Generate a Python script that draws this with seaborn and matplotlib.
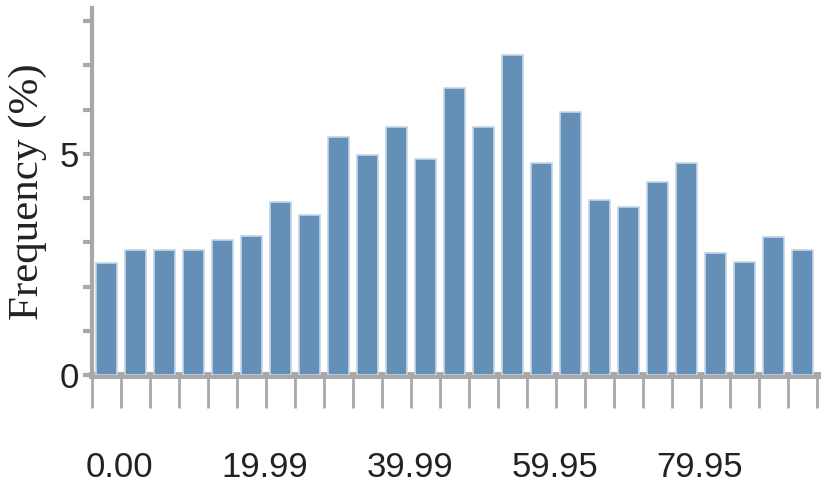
import pandas as pd
import matplotlib
matplotlib.use("Agg")
import matplotlib.pyplot as plt
from matplotlib.ticker import MultipleLocator
import seaborn as sns

# bar heights (% frequency)
BIN_INDEX = list(range(25))
FREQUENCY = [2.53, 2.83, 2.83, 2.83, 3.05, 3.14, 3.91, 3.62, 5.38, 4.98,
             5.61, 4.89, 6.50, 5.61, 7.24, 4.80, 5.95, 3.96, 3.80, 4.37,
             4.80, 2.76, 2.56, 3.12, 2.83]
TICK_BINS = [0, 5, 10, 15, 20]
TICK_LABELS = ["0.00", "19.99", "39.99", "59.95", "79.95"]

BAR_COLOR = "#6490b8"
AXIS_COLOR = "#a8a8a8"

df = pd.DataFrame({"bin": BIN_INDEX, "freq": FREQUENCY})

sns.set_style("white")
fig = plt.figure(figsize=(8.26, 4.92), dpi=100)
ax = fig.add_axes([0.1114, 0.2378, 0.8777, 0.746])

sns.barplot(data=df, x="bin", y="freq", color=BAR_COLOR, saturation=1,
            width=0.72, edgecolor="#c4d6e7", linewidth=1.2, ax=ax, native_scale=True)

ax.set_xlim(-0.5, 24.5)
ax.set_ylim(0, 8.3)

# spines
for side in ["top", "right"]:
    ax.spines[side].set_visible(False)
ax.spines["left"].set_color(AXIS_COLOR)
ax.spines["left"].set_linewidth(3)
ax.spines["bottom"].set_color(AXIS_COLOR)
ax.spines["bottom"].set_linewidth(5)
ax.spines["bottom"].set_zorder(0.5)

tick_font = dict(family=["Liberation Sans", "DejaVu Sans"], size=25)

# y ticks: minor every 1 unit, labels at 0 and 5
ax.yaxis.set_minor_locator(MultipleLocator(1))
ax.set_yticks([0, 5])
ax.set_yticklabels(["0", "5"], fontdict=tick_font, color="#222222")
ax.tick_params(axis="y", which="both", direction="out", length=6.5, width=3,
               color=AXIS_COLOR, left=True, pad=3)

# x ticks: boundary marks (minor), labels offset (major, no marks)
ax.set_xticks([b - 0.5 for b in range(26)], minor=True)
ax.set_xticks([b + 0.45 for b in TICK_BINS])
ax.set_xticklabels(TICK_LABELS, fontdict=tick_font, color="#222222")
ax.tick_params(axis="x", which="minor", direction="out", length=24, width=2,
               color=AXIS_COLOR, bottom=True)
ax.tick_params(axis="x", which="major", length=0, pad=55)

ax.set_xlabel("")
ax.set_ylabel("Frequency (%)", fontsize=31, family=["Liberation Serif", "DejaVu Serif"],
              color="#222222")
ax.yaxis.set_label_coords(-0.062, 0.50)

fig.savefig("out.png", dpi=100)
